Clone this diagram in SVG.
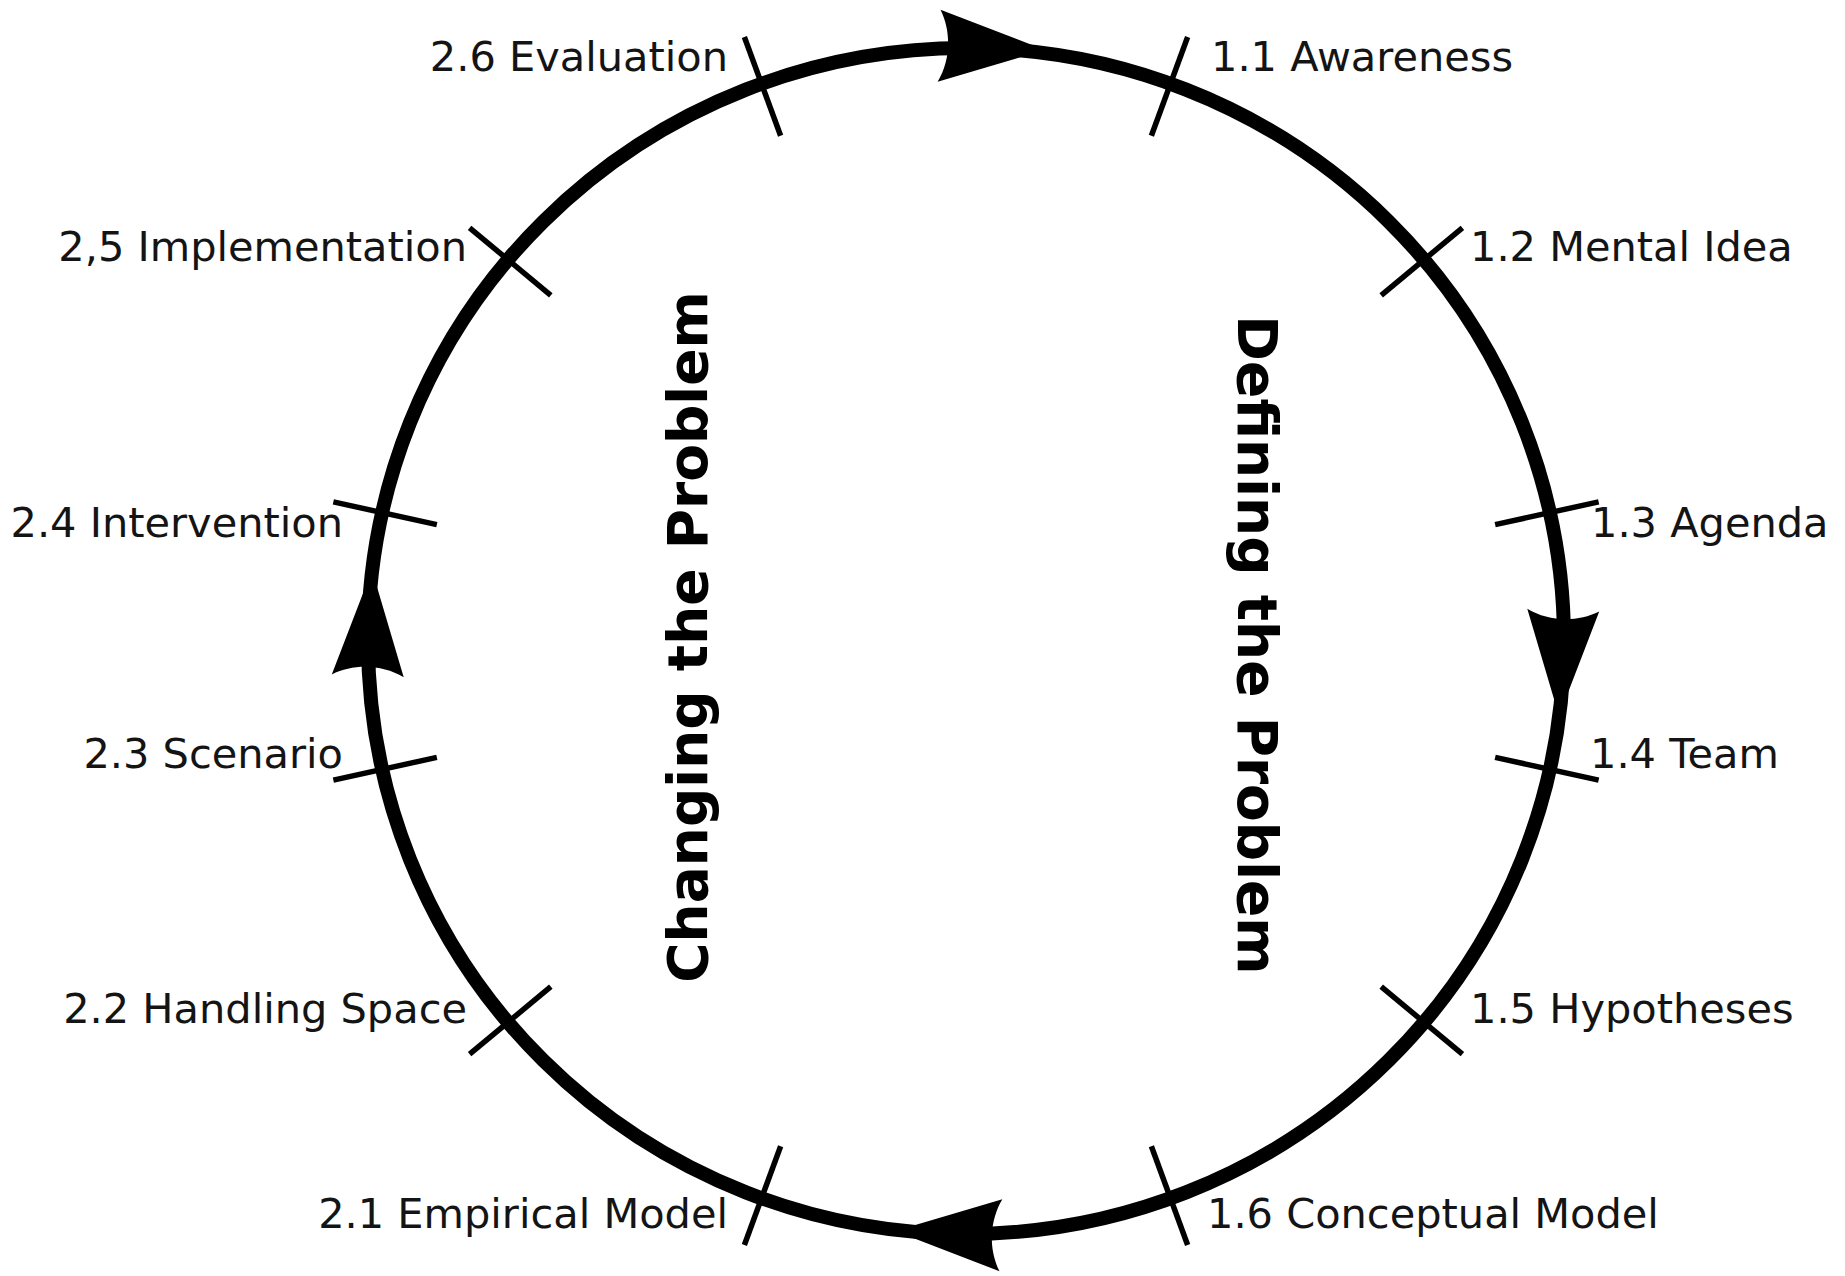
<svg xmlns="http://www.w3.org/2000/svg" xmlns:xlink="http://www.w3.org/1999/xlink" width="1845" height="1276" viewBox="0 0 1845 1276">
  <style>
    .label { font-family: "DejaVu Sans", "Liberation Sans", sans-serif; font-size: 41.5px; fill: #141414; }
    .phase { font-family: "DejaVu Sans", "Liberation Sans", sans-serif; font-size: 55px; font-weight: bold; fill: #000; }
    .tick { stroke: #000; stroke-width: 5.5; stroke-linecap: butt; }
    .ring { fill: none; stroke: #000; stroke-width: 14; }
  </style>
  <defs>
    <!-- concave-backed arrowhead, tip at origin pointing along +x -->
    <path id="head" d="M0,0 L-106,-36 C-94,-14 -94,14 -106,36 Z" fill="#000"/>
    <!-- radial tick across the ring -->
    <line id="tick" class="tick" x1="542" y1="0" x2="648" y2="0"/>
  </defs>
  <rect width="1845" height="1276" fill="#fff"/>

  <!-- the cycle ring with its direction arrows -->
  <g id="connectors">
    <ellipse class="ring" cx="966" cy="641" rx="598" ry="593"/>
    <use xlink:href="#head" transform="translate(1045,50) rotate(2.3)"/>
    <use xlink:href="#head" transform="translate(1559,716) rotate(92.3)"/>
    <use xlink:href="#head" transform="translate(895,1231) rotate(182.3)"/>
    <use xlink:href="#head" transform="translate(372,570) rotate(272.3)"/>
  </g>

  <!-- phase titles -->
  <g id="changing">
    <text class="phase" text-anchor="middle" transform="translate(707,637) rotate(-90)">Changing the Problem</text>
  </g>
  <g id="defining">
    <text class="phase" text-anchor="middle" transform="translate(1238,645) rotate(90)">Defining the Problem</text>
  </g>

  <!-- steps of the "defining" half -->
  <g id="step-1-1">
    <use xlink:href="#tick" transform="translate(966,641) scale(1,0.992) rotate(-70)"/>
    <text class="label" x="1211" y="71">1.1 Awareness</text>
  </g>
  <g id="step-1-2">
    <use xlink:href="#tick" transform="translate(966,641) scale(1,0.992) rotate(-40)"/>
    <text class="label" x="1470" y="261">1.2 Mental Idea</text>
  </g>
  <g id="step-1-3">
    <use xlink:href="#tick" transform="translate(966,641) scale(1,0.992) rotate(-12.5)"/>
    <text class="label" x="1591" y="537">1.3 Agenda</text>
  </g>
  <g id="step-1-4">
    <use xlink:href="#tick" transform="translate(966,641) scale(1,0.992) rotate(12.5)"/>
    <text class="label" x="1590" y="768">1.4 Team</text>
  </g>
  <g id="step-1-5">
    <use xlink:href="#tick" transform="translate(966,641) scale(1,0.992) rotate(40)"/>
    <text class="label" x="1470" y="1023">1.5 Hypotheses</text>
  </g>
  <g id="step-1-6">
    <use xlink:href="#tick" transform="translate(966,641) scale(1,0.992) rotate(70)"/>
    <text class="label" x="1207" y="1228">1.6 Conceptual Model</text>
  </g>

  <!-- steps of the "changing" half -->
  <g id="step-2-1">
    <use xlink:href="#tick" transform="translate(966,641) scale(1,0.992) rotate(110)"/>
    <text class="label" text-anchor="end" x="728" y="1228">2.1 Empirical Model</text>
  </g>
  <g id="step-2-2">
    <use xlink:href="#tick" transform="translate(966,641) scale(1,0.992) rotate(140)"/>
    <text class="label" text-anchor="end" x="467" y="1023">2.2 Handling Space</text>
  </g>
  <g id="step-2-3">
    <use xlink:href="#tick" transform="translate(966,641) scale(1,0.992) rotate(167.5)"/>
    <text class="label" text-anchor="end" x="343" y="768">2.3 Scenario</text>
  </g>
  <g id="step-2-4">
    <use xlink:href="#tick" transform="translate(966,641) scale(1,0.992) rotate(192.5)"/>
    <text class="label" text-anchor="end" x="343" y="537">2.4 Intervention</text>
  </g>
  <g id="step-2-5">
    <use xlink:href="#tick" transform="translate(966,641) scale(1,0.992) rotate(220)"/>
    <text class="label" text-anchor="end" x="467" y="261">2,5 Implementation</text>
  </g>
  <g id="step-2-6">
    <use xlink:href="#tick" transform="translate(966,641) scale(1,0.992) rotate(250)"/>
    <text class="label" text-anchor="end" x="728" y="71">2.6 Evaluation</text>
  </g>
</svg>
